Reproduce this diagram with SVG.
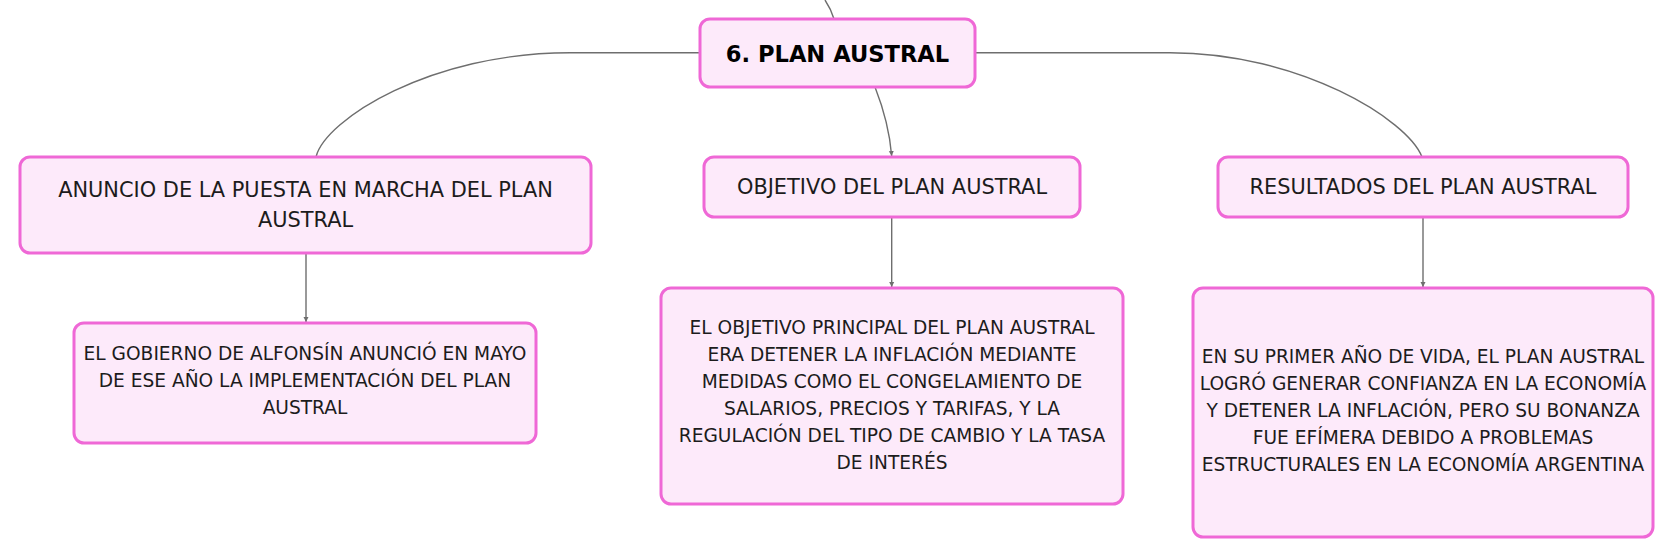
<svg xmlns="http://www.w3.org/2000/svg" width="1676" height="558" viewBox="0 0 1676 558">
<style>
.box{fill:#fdeafa;stroke:#ef68d6;stroke-width:3}
.t{font-family:"DejaVu Sans","Liberation Sans",sans-serif;fill:#1c1c1c;text-anchor:middle}
.h{font-size:20.9px}
.b{font-size:18.6px}
.c{font-family:"DejaVu Sans","Liberation Sans",sans-serif;font-weight:bold;font-size:22.6px;fill:#000;text-anchor:middle}
.ln{fill:none;stroke:#6e6e6e;stroke-width:1.4}
</style>
<defs>
<marker id="ar" markerWidth="6" markerHeight="6" refX="5" refY="3" orient="auto" markerUnits="userSpaceOnUse">
<path d="M0,0.5 L5,3 L0,5.5 Z" fill="#6e6e6e"/>
</marker>
</defs>
<rect width="1676" height="558" fill="#ffffff"/>
<g id="connectors">
<path class="ln" d="M825,0 C829,6 832,12 834,19"/>
<path class="ln" d="M700,52.7 L570,52.7 C430,52.7 325,120 316,157"/>
<path class="ln" d="M975,52.7 L1170,52.7 C1300,52.7 1408,120 1422,157"/>
<path class="ln" d="M875,87 C884,110 890,135 891.7,156" marker-end="url(#ar)"/>
<path class="ln" d="M306,253 L306,322" marker-end="url(#ar)"/>
<path class="ln" d="M891.7,217 L891.7,287" marker-end="url(#ar)"/>
<path class="ln" d="M1423,217 L1423,287" marker-end="url(#ar)"/>
</g>
<g id="central">
<rect class="box" x="700" y="19" width="275" height="68" rx="10"/>
<text class="c" x="837.5" y="61.5">6. PLAN AUSTRAL</text>
</g>
<g id="anuncio">
<rect class="box" x="20" y="157" width="571" height="96" rx="10"/>
<text class="t h" x="305.5" y="197">ANUNCIO DE LA PUESTA EN MARCHA DEL PLAN</text>
<text class="t h" x="305.5" y="227">AUSTRAL</text>
</g>
<g id="objetivo">
<rect class="box" x="704" y="157" width="376" height="60" rx="10"/>
<text class="t h" x="892" y="194">OBJETIVO DEL PLAN AUSTRAL</text>
</g>
<g id="resultados">
<rect class="box" x="1218" y="157" width="410" height="60" rx="10"/>
<text class="t h" x="1423" y="194">RESULTADOS DEL PLAN AUSTRAL</text>
</g>
<g id="gobierno">
<rect class="box" x="74" y="323" width="462" height="120" rx="10"/>
<text class="t b" x="305" y="360">EL GOBIERNO DE ALFONSÍN ANUNCIÓ EN MAYO</text>
<text class="t b" x="305" y="387">DE ESE AÑO LA IMPLEMENTACIÓN DEL PLAN</text>
<text class="t b" x="305" y="414">AUSTRAL</text>
</g>
<g id="principal">
<rect class="box" x="661" y="288" width="462" height="216" rx="10"/>
<text class="t b" x="892" y="334">EL OBJETIVO PRINCIPAL DEL PLAN AUSTRAL</text>
<text class="t b" x="892" y="361">ERA DETENER LA INFLACIÓN MEDIANTE</text>
<text class="t b" x="892" y="388">MEDIDAS COMO EL CONGELAMIENTO DE</text>
<text class="t b" x="892" y="415">SALARIOS, PRECIOS Y TARIFAS, Y LA</text>
<text class="t b" x="892" y="442">REGULACIÓN DEL TIPO DE CAMBIO Y LA TASA</text>
<text class="t b" x="892" y="469">DE INTERÉS</text>
</g>
<g id="primer">
<rect class="box" x="1193" y="288" width="460" height="249" rx="10"/>
<text class="t b" x="1423" y="363">EN SU PRIMER AÑO DE VIDA, EL PLAN AUSTRAL</text>
<text class="t b" x="1423" y="390">LOGRÓ GENERAR CONFIANZA EN LA ECONOMÍA</text>
<text class="t b" x="1423" y="417">Y DETENER LA INFLACIÓN, PERO SU BONANZA</text>
<text class="t b" x="1423" y="444">FUE EFÍMERA DEBIDO A PROBLEMAS</text>
<text class="t b" x="1423" y="471">ESTRUCTURALES EN LA ECONOMÍA ARGENTINA</text>
</g>
</svg>
